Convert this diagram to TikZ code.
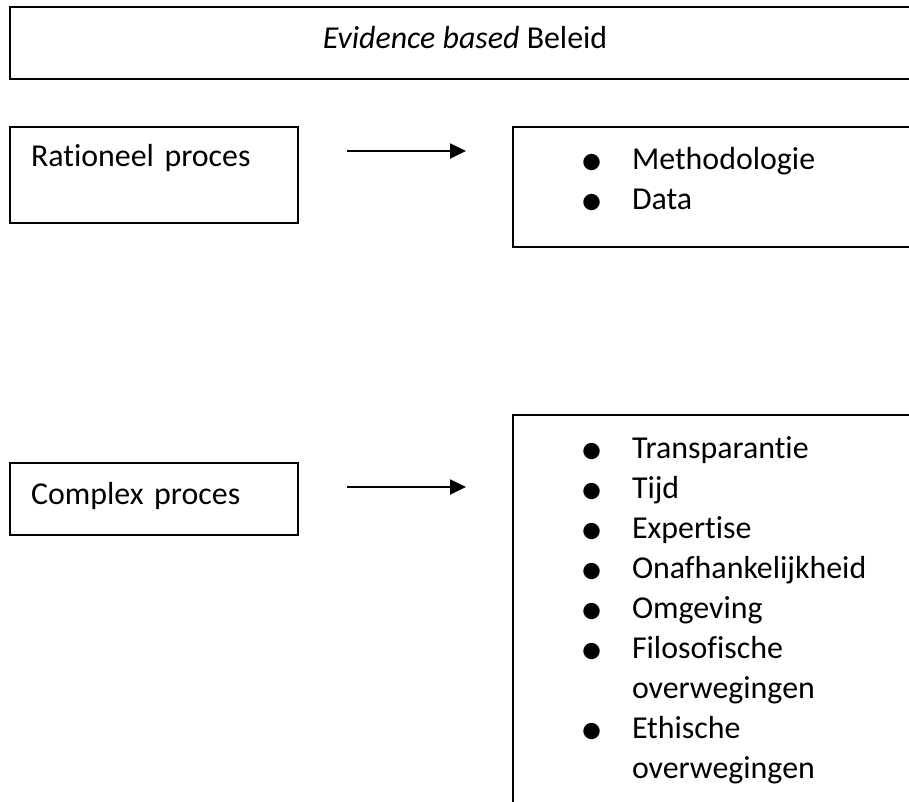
\documentclass[tikz,border=0pt]{standalone}
\usepackage{fontspec}
\usepackage{graphicx}
\setmainfont{Carlito}[RawFeature={-liga;-clig;-calt;-dlig}]
\usetikzlibrary{positioning, arrows.meta}
\tikzset{
  box/.style = {draw, line width=2pt, outer sep=0pt, inner ysep=0pt, align=left},
  arr/.style = {-{Triangle[length=16pt, width=15pt]}, line width=2pt},
}
\newcommand{\bul}{\makebox[49pt][l]{\hspace*{-3pt}\smash{\raisebox{-6pt}{\scalebox{1.45}{\textbullet}}}}}
\newcommand{\nobul}{\hspace*{49pt}}

\begin{document}
\begin{tikzpicture}[x=1pt, y=-1pt, font=\fontsize{31.9}{40}\selectfont]
    \clip (0,0) rectangle (909,802);
    \node[box, line width=2.5pt, anchor=north west, minimum width=910pt, text height=42pt, text depth=30pt, align=center] (title) at (10,7) {\textit{Evidence based} Beleid};

    \node[box, below=48pt of title.south west, anchor=north west, text width=246pt, inner xsep=21pt, text height=40pt, text depth=56pt] (rat) {Rationeel proces};
    \node[box, right=215pt of rat.north east, anchor=north west, text width=337pt, inner xsep=70pt, text height=43pt, text depth=77pt] (met) {\bul Methodologie\\ \bul Data};

    \node[box, below=240pt of rat.south west, anchor=north west, text width=246pt, inner xsep=21pt, text height=41pt, text depth=31pt] (cpx) {Complex proces};
    \node[box, above right=48pt and 215pt of cpx.north east, anchor=north west, text width=337pt, inner xsep=70pt, text height=43pt, text depth=400pt] (lst)
        {\bul Transparantie\\ \bul Tijd\\ \bul Expertise\\ \bul Onafhankelijkheid\\ \bul Omgeving\\
         \bul Filosofische\\ \nobul overwegingen\\ \bul Ethische\\ \nobul overwegingen};

    \coordinate (a1) at ([xshift=49pt, yshift=-24pt]rat.north east);
    \coordinate (a2) at ([xshift=49pt, yshift=-24pt]cpx.north east);
    \draw[arr] (a1) -- ([xshift=-47pt]met.west |- a1);
    \draw[arr] (a2) -- ([xshift=-47pt]lst.west |- a2);
\end{tikzpicture}
\end{document}
